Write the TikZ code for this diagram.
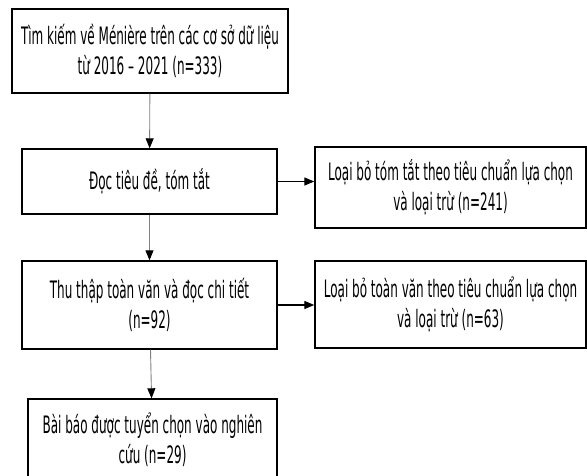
\documentclass[tikz,border=0pt]{standalone}
\usepackage{fontspec}
\setmainfont{DejaVu Sans}[FakeStretch=0.5]
\usetikzlibrary{arrows.meta}

\begin{document}
\begin{tikzpicture}[
            x=1pt, y=-1pt,
            box/.style={draw=black, line width=1.4pt, align=center, inner sep=0pt, font=\fontsize{24}{30}\selectfont},
            down/.style={draw=gray, line width=0.9pt, -{Triangle[length=10pt, width=8pt, color=black]}},
            side/.style={draw=black, line width=1.3pt, -{Triangle[length=10pt, width=8pt]}},
        ]
            \fill[white] (0, 0) rectangle (587, 475);
            \useasboundingbox (0, 0) rectangle (587, 475);
            %% boxes
            \node[box, minimum width=276pt, minimum height=84pt] at (150, 51) (search) {Tìm kiếm về Ménière trên các cơ sở dữ liệu\\từ 2016 -- 2021 (n=333)};
            \node[box, minimum width=255pt, minimum height=65pt] at (149.5, 181.5) (screen) {Đọc tiêu đề, tóm tắt};
            \node[box, minimum width=271pt, minimum height=81pt] at (450.5, 187.5) (exclude-abs) {Loại bỏ tóm tắt theo tiêu chuẩn lựa chọn\\và loại trừ (n=241)};
            \node[box, minimum width=255pt, minimum height=88pt] at (149.5, 305) (fulltext) {Thu thập toàn văn và đọc chi tiết\\(n=92)};
            \node[box, minimum width=271pt, minimum height=87pt] at (450.5, 304.5) (exclude-full) {Loại bỏ toàn văn theo tiêu chuẩn lựa chọn\\và loại trừ (n=63)};
            \node[box, minimum width=249pt, minimum height=82pt] at (152.5, 440) (included) {Bài báo được tuyển chọn vào nghiên\\cứu (n=29)};
            %% arrows
            \draw[down] (search) -- (screen);
            \draw[down] (screen) -- (fulltext);
            \draw[down] (fulltext) -- (included);
            \draw[side] (screen.east) -- (screen.east -| exclude-abs.west);
            \draw[side] (fulltext.east) -- (fulltext.east -| exclude-full.west);

        \end{tikzpicture}
\end{document}
